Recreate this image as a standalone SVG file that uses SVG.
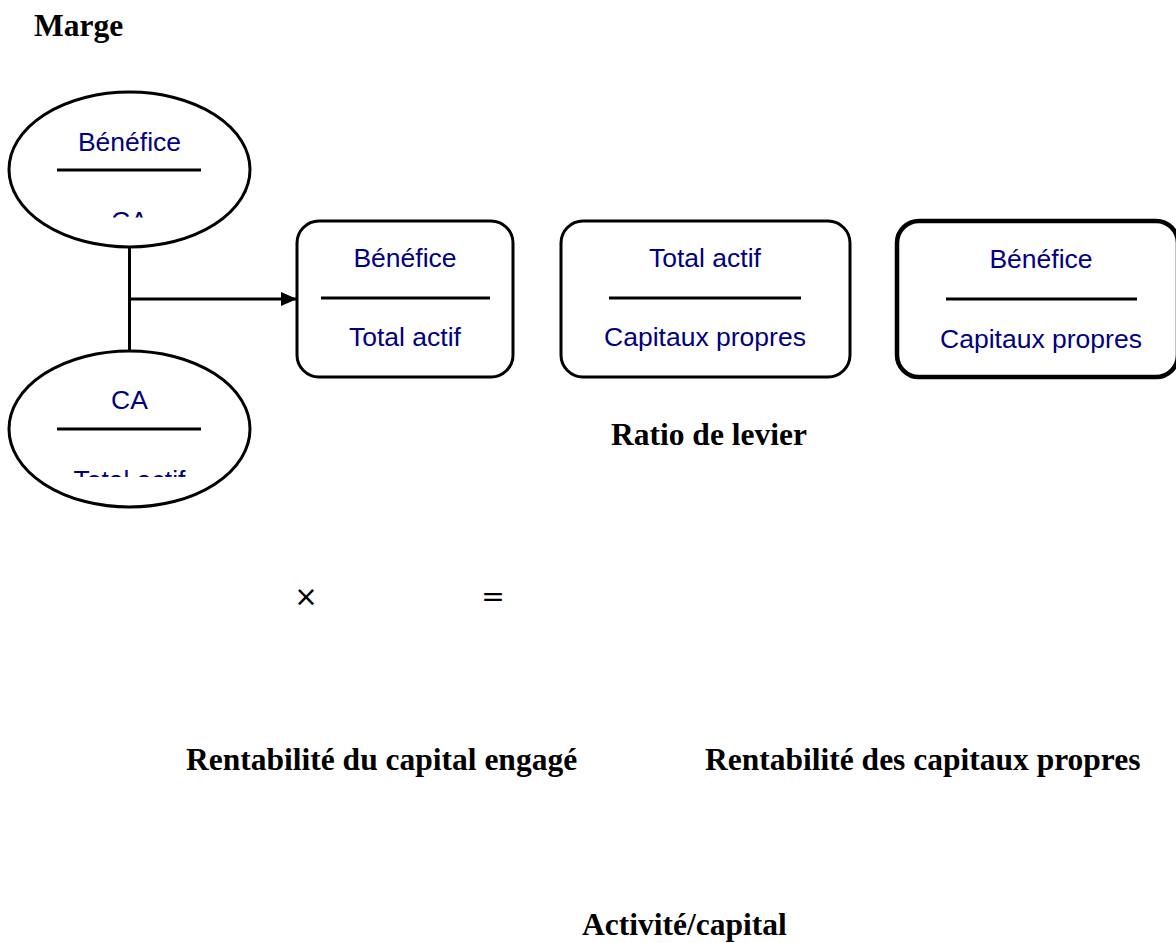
<svg xmlns="http://www.w3.org/2000/svg" width="1176" height="943" viewBox="0 0 1176 943">
  <style>
    .shape { fill: #ffffff; stroke: #000000; stroke-width: 3; }
    .thick { stroke-width: 4.5; }
    .rule { stroke: #000000; stroke-width: 3; }
    .frac { font-family: "Liberation Sans", Arial, sans-serif; font-size: 26.5px; fill: #000080; text-anchor: middle; }
    .title { font-family: "Liberation Serif", "Times New Roman", serif; font-size: 31.5px; font-weight: bold; fill: #000000; }
    .op { font-family: "DejaVu Sans", sans-serif; font-size: 28px; fill: #000000; text-anchor: middle; }
    .link { fill: none; stroke: #000000; stroke-width: 3; }
  </style>
  <defs>
    <marker id="arrow" markerWidth="16" markerHeight="14" refX="15" refY="7" orient="auto" markerUnits="userSpaceOnUse">
      <path d="M0,0 L16,7 L0,14 Z" fill="#000000"/>
    </marker>
    <clipPath id="clip-top"><rect x="20" y="100" width="220" height="117.5"/></clipPath>
    <clipPath id="clip-bottom"><rect x="20" y="360" width="220" height="117"/></clipPath>
  </defs>
  <rect width="1176" height="943" fill="#ffffff"/>

  <!-- connectors -->
  <g id="connectors">
    <line class="link" x1="129.5" y1="247" x2="129.5" y2="351"/>
    <line class="link" x1="129.5" y1="299" x2="296" y2="299" marker-end="url(#arrow)"/>
  </g>

  <!-- Marge: Bénéfice / CA -->
  <g id="marge-ellipse">
    <ellipse class="shape" cx="129.5" cy="169.5" rx="120.5" ry="77.5"/>
    <g clip-path="url(#clip-top)">
      <text class="frac" x="129.5" y="151">Bénéfice</text>
      <text class="frac" x="129.5" y="230">CA</text>
    </g>
    <line class="rule" x1="57" y1="170" x2="201" y2="170"/>
  </g>

  <!-- Activité: CA / Total actif -->
  <g id="activite-ellipse">
    <ellipse class="shape" cx="129.5" cy="429" rx="120.5" ry="78"/>
    <g clip-path="url(#clip-bottom)">
      <text class="frac" x="129.5" y="409">CA</text>
      <text class="frac" x="129.5" y="489">Total actif</text>
    </g>
    <line class="rule" x1="57" y1="429" x2="201" y2="429"/>
  </g>

  <!-- Bénéfice / Total actif -->
  <g id="rce-box">
    <rect class="shape" x="297" y="221" width="216" height="156" rx="22" ry="22"/>
    <text class="frac" x="405" y="267">Bénéfice</text>
    <line class="rule" x1="321" y1="298" x2="490" y2="298"/>
    <text class="frac" x="405" y="346">Total actif</text>
  </g>

  <!-- Total actif / Capitaux propres -->
  <g id="levier-box">
    <rect class="shape" x="561" y="221" width="289" height="156" rx="22" ry="22"/>
    <text class="frac" x="705" y="267">Total actif</text>
    <line class="rule" x1="609" y1="298" x2="801" y2="298"/>
    <text class="frac" x="705" y="346">Capitaux propres</text>
  </g>

  <!-- Bénéfice / Capitaux propres -->
  <g id="rcp-box">
    <rect class="shape thick" x="897" y="221" width="281" height="156" rx="22" ry="22"/>
    <text class="frac" x="1041" y="268">Bénéfice</text>
    <line class="rule" x1="946" y1="299" x2="1137" y2="299"/>
    <text class="frac" x="1041" y="348">Capitaux propres</text>
  </g>

  <!-- operators -->
  <g id="operators">
    <text class="op" x="306" y="606">×</text>
    <text class="op" x="493" y="606">=</text>
  </g>

  <!-- captions -->
  <g id="captions">
    <text class="title" x="34" y="36">Marge</text>
    <text class="title" x="611" y="445">Ratio de levier</text>
    <text class="title" x="186" y="770">Rentabilité du capital engagé</text>
    <text class="title" x="705" y="770">Rentabilité des capitaux propres</text>
    <text class="title" x="582" y="935">Activité/capital</text>
  </g>
</svg>
